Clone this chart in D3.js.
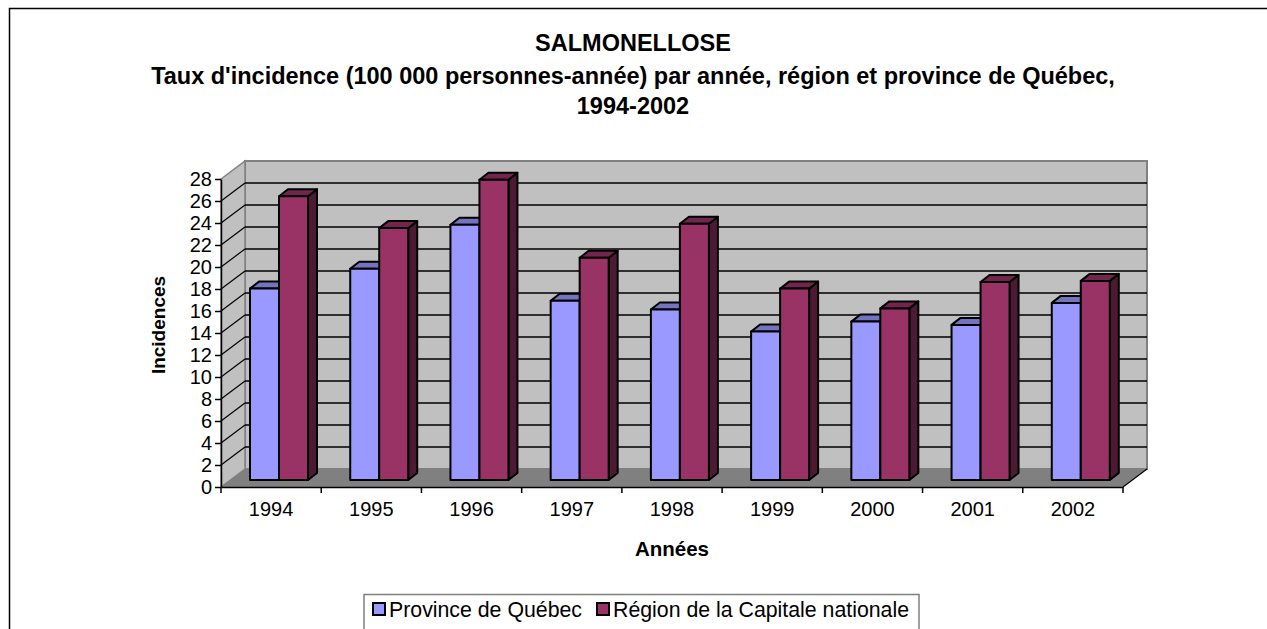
<!DOCTYPE html>
<html>
<head>
<meta charset="utf-8">
<script src="https://cdn.jsdelivr.net/npm/d3@7"></script>
<style>
  body { margin: 0; background: #fff; }
  text { font-family: "Liberation Sans", Arial, sans-serif; fill: #000; }
</style>
</head>
<body>
<div id="chart"></div>
<script>
// data
var years = ["1994", "1995", "1996", "1997", "1998", "1999", "2000", "2001", "2002"];
var province = [17.4, 19.2, 23.2, 16.3, 15.5, 13.5, 14.4, 14.1, 16.1];
var capitale = [25.8, 22.9, 27.3, 20.2, 23.3, 17.4, 15.6, 18.0, 18.1];
var seriesNames = ["Province de Québec", "Région de la Capitale nationale"];
var yTicks = [0, 2, 4, 6, 8, 10, 12, 14, 16, 18, 20, 22, 24, 26, 28];

var svgWidth = 1267;
var svgHeight = 629;

// front plane of the 3d box
var plotLeft = 221, plotRight = 1123, plotBottom = 487, plotTop = 179;
// depth of the walls, and of the bars
var dx = 24, dy = -18;
var bdx = 9, bdy = -7;

var colors = [
  {front: "#9999ff", top: "#7373bf", side: "#4d4d80"},
  {front: "#993366", top: "#73264d", side: "#4d1a33"}
];

var svg = d3.select("#chart")
  .append("svg")
  .attr("width", svgWidth)
  .attr("height", svgHeight);

// outer border
svg.append("rect")
  .attr("x", 9.5).attr("y", 8.5)
  .attr("width", 1300).attr("height", 700)
  .attr("fill", "none")
  .attr("stroke", "#000")
  .attr("stroke-width", 1.5);

var x = d3.scaleBand().domain(years).range([plotLeft, plotRight]);
var xSub = d3.scaleBand().domain([0, 1]).range([20, 78]);
var y = d3.scaleLinear().domain([0, 28]).range([plotBottom, plotTop]);

function pts(a) { return a.map(p => p.join(",")).join(" "); }

// back wall
svg.append("polygon")
  .attr("points", pts([[plotLeft + dx, plotTop + dy], [plotRight + dx, plotTop + dy], [plotRight + dx, plotBottom + dy], [plotLeft + dx, plotBottom + dy]]))
  .attr("fill", "#c0c0c0")
  .attr("stroke", "#808080")
  .attr("stroke-width", 2);

// side wall
svg.append("polygon")
  .attr("points", pts([[plotLeft, plotTop], [plotLeft + dx, plotTop + dy], [plotLeft + dx, plotBottom + dy], [plotLeft, plotBottom]]))
  .attr("fill", "#c0c0c0")
  .attr("stroke", "#808080")
  .attr("stroke-width", 1.5);

// gridlines on the walls
var grid = svg.append("g");
yTicks.slice(1, -1).forEach(function(t) {
  grid.append("line")
    .attr("x1", plotLeft + dx).attr("x2", plotRight + dx)
    .attr("y1", y(t) + dy).attr("y2", y(t) + dy)
    .attr("stroke", "#000").attr("stroke-width", 1.3);
  grid.append("line")
    .attr("x1", plotLeft).attr("x2", plotLeft + dx)
    .attr("y1", y(t)).attr("y2", y(t) + dy)
    .attr("stroke", "#000").attr("stroke-width", 1.2);
});

// floor
svg.append("polygon")
  .attr("points", pts([[plotLeft, plotBottom], [plotRight, plotBottom], [plotRight + dx, plotBottom + dy], [plotLeft + dx, plotBottom + dy]]))
  .attr("fill", "#808080");

// bars
var bars = svg.append("g");
years.forEach(function(yr, i) {
  [province[i], capitale[i]].forEach(function(v, s) {
    var x0 = x(yr) + xSub(s) + bdx;
    var w = xSub.bandwidth();
    var y0 = y(0) + bdy;
    var y1 = y(v) + bdy;
    var c = colors[s];
    var g = bars.append("g")
      .attr("stroke", "#000")
      .attr("stroke-width", 2)
      .attr("stroke-linejoin", "round");
    g.append("polygon")
      .attr("points", pts([[x0 + w, y1], [x0 + w + bdx, y1 + bdy], [x0 + w + bdx, y0 + bdy], [x0 + w, y0]]))
      .attr("fill", c.side);
    g.append("polygon")
      .attr("points", pts([[x0, y1], [x0 + bdx, y1 + bdy], [x0 + w + bdx, y1 + bdy], [x0 + w, y1]]))
      .attr("fill", c.top);
    g.append("rect")
      .attr("x", x0).attr("y", y1)
      .attr("width", w).attr("height", y0 - y1)
      .attr("fill", c.front);
  });
});

// y axis
var yAxis = svg.append("g")
  .attr("transform", `translate(${plotLeft},0)`)
  .call(d3.axisLeft(y).tickValues(yTicks).tickSize(6).tickPadding(3).tickSizeOuter(0));
yAxis.select(".domain").attr("stroke", "#000").attr("stroke-width", 1.5);
yAxis.selectAll(".tick line").attr("stroke", "#000").attr("stroke-width", 1.5);
yAxis.selectAll("text").attr("font-size", "20px").attr("font-family", "Liberation Sans, Arial, sans-serif").attr("fill", "#000");

// x axis
var xAxis = svg.append("g")
  .attr("transform", `translate(0,${plotBottom})`)
  .call(d3.axisBottom(x).tickSize(0).tickPadding(15).tickSizeOuter(0));
xAxis.select(".domain").attr("stroke", "#000").attr("stroke-width", 1.5);
xAxis.selectAll("text").attr("font-size", "20px").attr("font-family", "Liberation Sans, Arial, sans-serif").attr("fill", "#000");

// tick marks at category boundaries
d3.range(years.length + 1).forEach(function(i) {
  var xb = plotLeft + i * x.step();
  xAxis.append("line")
    .attr("x1", xb).attr("x2", xb)
    .attr("y1", 0).attr("y2", 6)
    .attr("stroke", "#000").attr("stroke-width", 1.5);
});
// floor edge on the right
svg.append("line")
  .attr("x1", plotRight).attr("y1", plotBottom)
  .attr("x2", plotRight + dx).attr("y2", plotBottom + dy)
  .attr("stroke", "#000").attr("stroke-width", 1.2);

// titles
var title = svg.append("g")
  .attr("font-weight", "bold")
  .attr("font-size", "23.5px")
  .attr("text-anchor", "middle");
title.append("text").attr("x", 633).attr("y", 51).text("SALMONELLOSE");
title.append("text").attr("x", 633).attr("y", 84).text("Taux d'incidence (100 000 personnes-année) par année, région et province de Québec,");
title.append("text").attr("x", 633).attr("y", 114).text("1994-2002");

svg.append("text")
  .attr("x", (plotLeft + plotRight) / 2).attr("y", 556)
  .attr("text-anchor", "middle")
  .attr("font-weight", "bold")
  .attr("font-size", "20.5px")
  .text("Années");

svg.append("text")
  .attr("transform", "translate(165,325) rotate(-90)")
  .attr("text-anchor", "middle")
  .attr("font-weight", "bold")
  .attr("font-size", "19px")
  .text("Incidences");

// legend
var legend = svg.append("g");
legend.append("rect")
  .attr("x", 364).attr("y", 594.5)
  .attr("width", 555).attr("height", 60)
  .attr("fill", "#fff")
  .attr("stroke", "#808080")
  .attr("stroke-width", 1.5);
var legendX = [373, 597];
seriesNames.forEach(function(name, s) {
  legend.append("rect")
    .attr("x", legendX[s]).attr("y", 603)
    .attr("width", 12).attr("height", 12)
    .attr("fill", colors[s].front)
    .attr("stroke", "#000")
    .attr("stroke-width", 2);
  legend.append("text")
    .attr("x", legendX[s] + 16).attr("y", 617)
    .attr("font-size", "21.3px")
    .text(name);
});
</script>
</body>
</html>
